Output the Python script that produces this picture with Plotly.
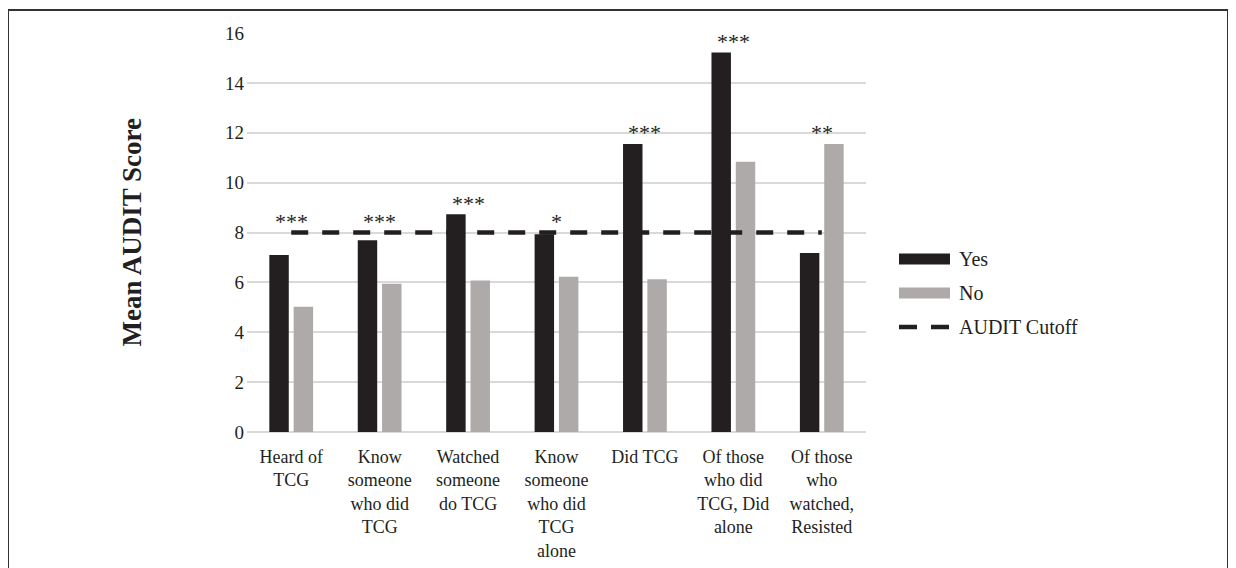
import plotly.graph_objects as go

# ---- data ----
categories = ["Heard of TCG", "Know someone who did TCG", "Watched someone do TCG",
              "Know someone who did TCG alone", "Did TCG",
              "Of those who did TCG, Did alone", "Of those who watched, Resisted"]
tick_labels = ["Heard of<br>TCG", "Know<br>someone<br>who did<br>TCG", "Watched<br>someone<br>do TCG",
               "Know<br>someone<br>who did<br>TCG<br>alone", "Did TCG",
               "Of those<br>who did<br>TCG, Did<br>alone", "Of those<br>who<br>watched,<br>Resisted"]
yes_vals = [7.10, 7.69, 8.73, 7.93, 11.55, 15.22, 7.18]
no_vals = [5.02, 5.94, 6.08, 6.23, 6.13, 10.84, 11.55]
cutoff_vals = [8, 8, 8, 8, 8, 8, 8]
significance = ["***", "***", "***", "*", "***", "***", "**"]
y_ticks = [0, 2, 4, 6, 8, 10, 12, 14, 16]

BLACK = "#231f20"
GRAY = "#aeaaaa"
FONT = "Liberation Serif, Times New Roman, serif"

OFF = 8  # page body margin
W, H = 1236 - OFF, 568 - OFF
# plot area in page pixels: x 247..866, y 33..432
L, R, T, B = 247 - OFF, 1236 - 866, 33 - OFF, 568 - 432
pw, ph = W - L - R, H - T - B


def px(x):  # page pixel -> paper
    return (x - OFF - L) / pw


def py(y):
    return (H - B - (y - OFF)) / ph


fig = go.Figure()
fig.add_trace(go.Bar(x=categories, y=yes_vals, name="Yes", marker=dict(color=BLACK, line=dict(width=0))))
fig.add_trace(go.Bar(x=categories, y=no_vals, name="No", marker=dict(color=GRAY, line=dict(width=0))))
fig.add_trace(go.Scatter(x=categories, y=cutoff_vals, name="AUDIT Cutoff", mode="lines",
                         line=dict(color=BLACK, width=4.5, dash="17px,14px")))

annotations = []
for c, s, a, b, k in zip(categories, significance, yes_vals, no_vals, cutoff_vals):
    annotations.append(dict(x=c, y=max(a, b, k) + 0.45, xref="x", yref="y", text=s, showarrow=False,
                            font=dict(family=FONT, size=22, color=BLACK), xanchor="center", yanchor="middle"))

# y-axis title
annotations.append(dict(x=px(131), y=0.5, xref="paper", yref="paper", text="<b>Mean AUDIT Score</b>",
                        textangle=-90, showarrow=False, font=dict(family=FONT, size=27, color=BLACK),
                        xanchor="center", yanchor="middle"))

# manual legend
shapes = []
leg_items = [("Yes", 259, "bar", BLACK), ("No", 293, "bar", GRAY), ("AUDIT Cutoff", 327, "line", BLACK)]
for name, yc, kind, col in leg_items:
    if kind == "bar":
        shapes.append(dict(type="rect", xref="paper", yref="paper", x0=px(899), x1=px(950),
                           y0=py(yc - 5.5), y1=py(yc + 5.5), fillcolor=col, line=dict(width=0)))
    else:
        shapes.append(dict(type="line", xref="paper", yref="paper", x0=px(899), x1=px(950),
                           y0=py(yc), y1=py(yc), line=dict(color=col, width=4.5, dash="18px,14px")))
    annotations.append(dict(x=px(957), y=py(yc), xref="paper", yref="paper", text=name, showarrow=False,
                            font=dict(family=FONT, size=20, color=BLACK), xanchor="left", yanchor="middle"))

# outer frame
shapes.append(dict(type="rect", xref="paper", yref="paper", x0=px(8), x1=px(1228), y0=py(590), y1=py(10),
                   line=dict(color="#333333", width=2), fillcolor="rgba(0,0,0,0)", layer="above"))

fig.update_layout(
    width=W, height=H,
    margin=dict(l=L, r=R, t=T, b=B, autoexpand=False),
    paper_bgcolor="white", plot_bgcolor="white",
    barmode="group", bargap=0.45, bargroupgap=0.2,
    showlegend=False,
    font=dict(family=FONT, size=18, color=BLACK),
    annotations=annotations,
    shapes=shapes,
    xaxis=dict(tickvals=categories, ticktext=tick_labels, showgrid=False, showline=False, zeroline=False,
               ticks="", tickfont=dict(family=FONT, size=18, color=BLACK), tickangle=0,
               ticklabelstandoff=12, automargin=False),
    yaxis=dict(range=[0, 16], tickvals=y_ticks, showgrid=True, gridcolor="#d9d9d9", gridwidth=1.5,
               zeroline=True, zerolinecolor="#d9d9d9", zerolinewidth=1.5, showline=False, ticks="",
               tickfont=dict(family=FONT, size=19, color=BLACK), ticklabelstandoff=2, automargin=False),
)

fig.write_html("out.html")
